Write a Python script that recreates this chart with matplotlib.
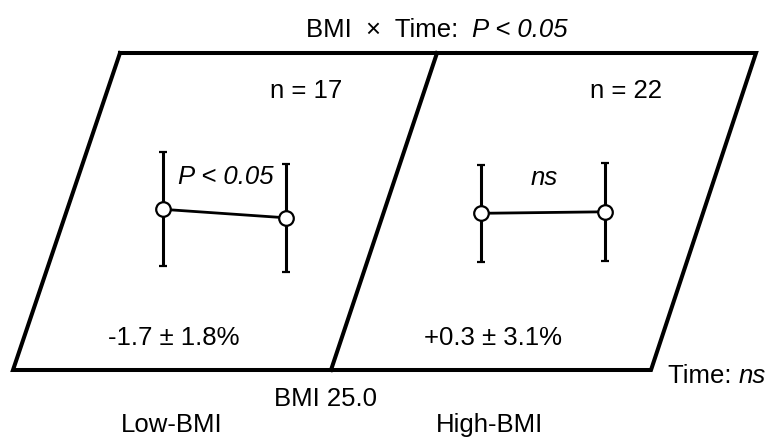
import matplotlib.pyplot as plt

plt.rcParams["font.family"] = ["Liberation Sans", "DejaVu Sans"]

W, H = 772, 438

# pre / post values (change from baseline) and spread per group
time_points = [0, 1]
low_mean = [0.0, -1.7]
low_err = [11.4, 10.8]
high_mean = [0.0, 0.3]
high_err = [9.7, 9.8]

groups = ["Low-BMI", "High-BMI"]
group_n = [17, 22]
group_change = ["-1.7 ± 1.8%", "+0.3 ± 3.1%"]
group_test = ["P < 0.05", "ns"]
cutoff = "BMI 25.0"

fs = 18.5

fig = plt.figure(figsize=(W / 100, H / 100), dpi=100)
ax = fig.add_axes([0, 0, 1, 1])
ax.set_xlim(0, W)
ax.set_ylim(H, 0)
ax.axis("off")

# parallelogram frame split at the BMI cut-off
ax.plot([120, 756, 651, 13, 120], [53, 53, 370, 370, 53],
        color="black", lw=2.9, solid_joinstyle="miter")
ax.plot([437, 331], [53, 370], color="black", lw=2.9)


def panel(x0, yc, sx, means, errs, sy=5.0):
    # small axes per group: x = visit, y = value
    pa = fig.add_axes([(x0 - 0.2 * sx) / W, (H - (yc + 16 * sy)) / H,
                       1.4 * sx / W, 32 * sy / H])
    pa.set_xlim(-0.2, 1.2)
    pa.set_ylim(-16, 16)
    pa.axis("off")
    pa.errorbar(time_points, means, yerr=errs, fmt="-o", color="black",
                lw=2, elinewidth=2.2, capsize=3, capthick=2,
                ms=10.5, mfc="white", mec="black", mew=1.6)


def mixed(x, y, plain, italic):
    # plain text followed by an italic part on the same baseline
    t = ax.text(x, y, plain, fontsize=fs, ha="left", va="baseline")
    ax.annotate(italic, xy=(1, 0), xycoords=t, fontsize=fs,
                fontstyle="italic", ha="left", va="bottom")


panel(162.7, 209.3, 123.3, low_mean, low_err)
panel(481.0, 213.3, 124.0, high_mean, high_err)

mixed(306, 37, "BMI  \u00d7  Time:  ", "P < 0.05")

ax.text(306, 98, f"n = {group_n[0]}", fontsize=fs, ha="center", va="baseline")
ax.text(626, 98, f"n = {group_n[1]}", fontsize=fs, ha="center", va="baseline")

ax.text(226, 184, group_test[0], fontsize=fs, fontstyle="italic",
        ha="center", va="baseline")
ax.text(544, 185, group_test[1], fontsize=fs, fontstyle="italic",
        ha="center", va="baseline")

ax.text(174, 345, group_change[0], fontsize=fs, ha="center", va="baseline")
ax.text(493, 345, group_change[1], fontsize=fs, ha="center", va="baseline")

mixed(668, 383, "Time: ", "ns")
ax.text(326, 406, cutoff, fontsize=fs, ha="center", va="baseline")
ax.text(172, 432, groups[0], fontsize=fs, ha="center", va="baseline")
ax.text(490, 432, groups[1], fontsize=fs, ha="center", va="baseline")

fig.savefig("out.png", dpi=100)
